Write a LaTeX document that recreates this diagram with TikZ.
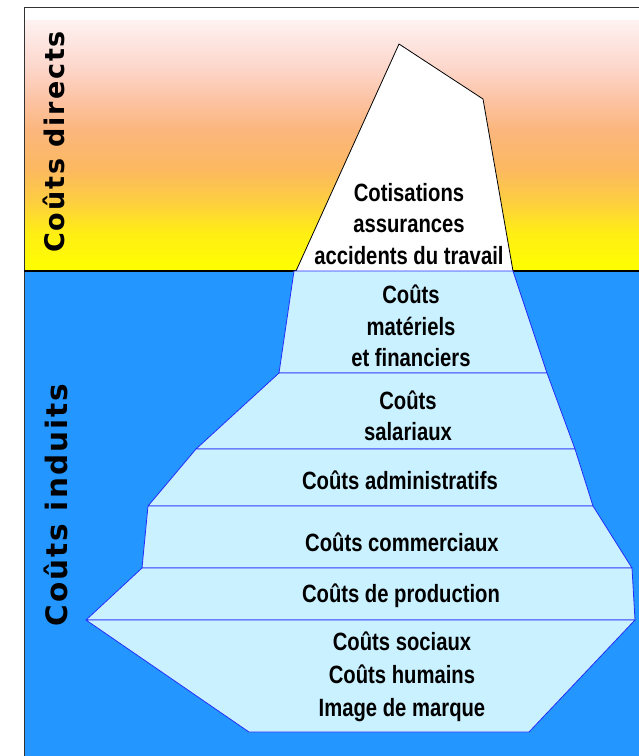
\documentclass[tikz,border=0pt]{standalone}
\usepackage{fontspec}
\setmainfont{Liberation Sans}
\newfontfamily\bergfont{Liberation Sans}[FakeStretch=0.81]
\newfontfamily\sidefont{DejaVu Sans Bold}[LetterSpace=7]
\definecolor{sea}{RGB}{36,150,255}
\definecolor{ice}{RGB}{202,241,255}
\definecolor{iceline}{RGB}{35,45,250}
\definecolor{sky0}{RGB}{255,255,0}
\definecolor{sky1}{RGB}{255,238,20}
\definecolor{sky2}{RGB}{253,205,65}
\definecolor{sky3}{RGB}{252,185,95}
\definecolor{sky4}{RGB}{251,182,125}
\definecolor{sky5}{RGB}{252,195,163}
\definecolor{sky6}{RGB}{253,213,200}
\definecolor{sky7}{RGB}{253,230,226}
\definecolor{sky8}{RGB}{254,242,240}
\pgfdeclareverticalshading{sky}{100bp}{%
  color(0bp)=(sky0); color(25bp)=(sky0);
  color(32.6bp)=(sky1); color(39.1bp)=(sky2);
  color(45.1bp)=(sky3); color(53.1bp)=(sky4);
  color(59.1bp)=(sky5); color(65bp)=(sky6);
  color(71bp)=(sky7); color(75bp)=(sky8);
  color(100bp)=(sky8)}

\begin{document}
\begin{tikzpicture}
  [x=1pt,y=-1pt,
   layer/.style={fill=ice,draw=iceline,line width=.8pt,line join=round},
   cost/.style={align=center,font=\bergfont\bfseries\fontsize{25}{31.5}\selectfont},
   sidelabel/.style={rotate=90,anchor=base,font=\sidefont\fontsize{#1}{#1}\selectfont}]
  \useasboundingbox[fill=white] (0,0) rectangle (639,756);
  \shade[shading=sky] (24,20) rectangle (639,271);
  \fill[sea] (24,271) rectangle (639,756);
  \draw[line width=1pt,black!80] (24,756) -- (24,7) -- (639,7);
  \draw[line width=1.3pt] (24,271) -- (639,271);
  % tip above the water
  \filldraw[fill=white,draw=black,line width=.8pt,line join=round]
    (296,271) -- (399,44) -- (483,99) -- (513,271);
  % layers below: top y/left/right, bottom y/left/right
  \foreach \ya/\la/\ra/\yb/\lb/\rb in
    {271/294/513/373/279/547, 373/279/547/449/196/575,
     449/196/575/506/148/593, 506/148/593/568/142/632,
     568/142/632/620/86/635, 620/86/635/732/249/529}
    \filldraw[layer] (\la,\ya) -- (\ra,\ya) -- (\rb,\yb) -- (\lb,\yb) -- cycle;
  \node[cost] (cotis) at (409,224) {Cotisations\\assurances\\accidents du travail};
  \node[cost] (materiel) at (411,326) {Coûts\\matériels\\et financiers};
  \node[cost] (salarial) at (408,416) {Coûts\\salariaux};
  \node[cost] (admin) at (400,480) {Coûts administratifs};
  \node[cost] (commerce) at (402,542) {Coûts commerciaux};
  \node[cost,font=\bergfont\bfseries\fontsize{25}{33}\selectfont] (social) at (402,677) {Coûts sociaux\\Coûts humains\\Image de marque};
  \node[cost] (prod) at (401,596) {Coûts de production};
  \node[sidelabel=27] (direct) at (64,142) {Coûts directs};
  \node[sidelabel=29.5] (induit) at (67,505) {Coûts induits};
\end{tikzpicture}
\end{document}
